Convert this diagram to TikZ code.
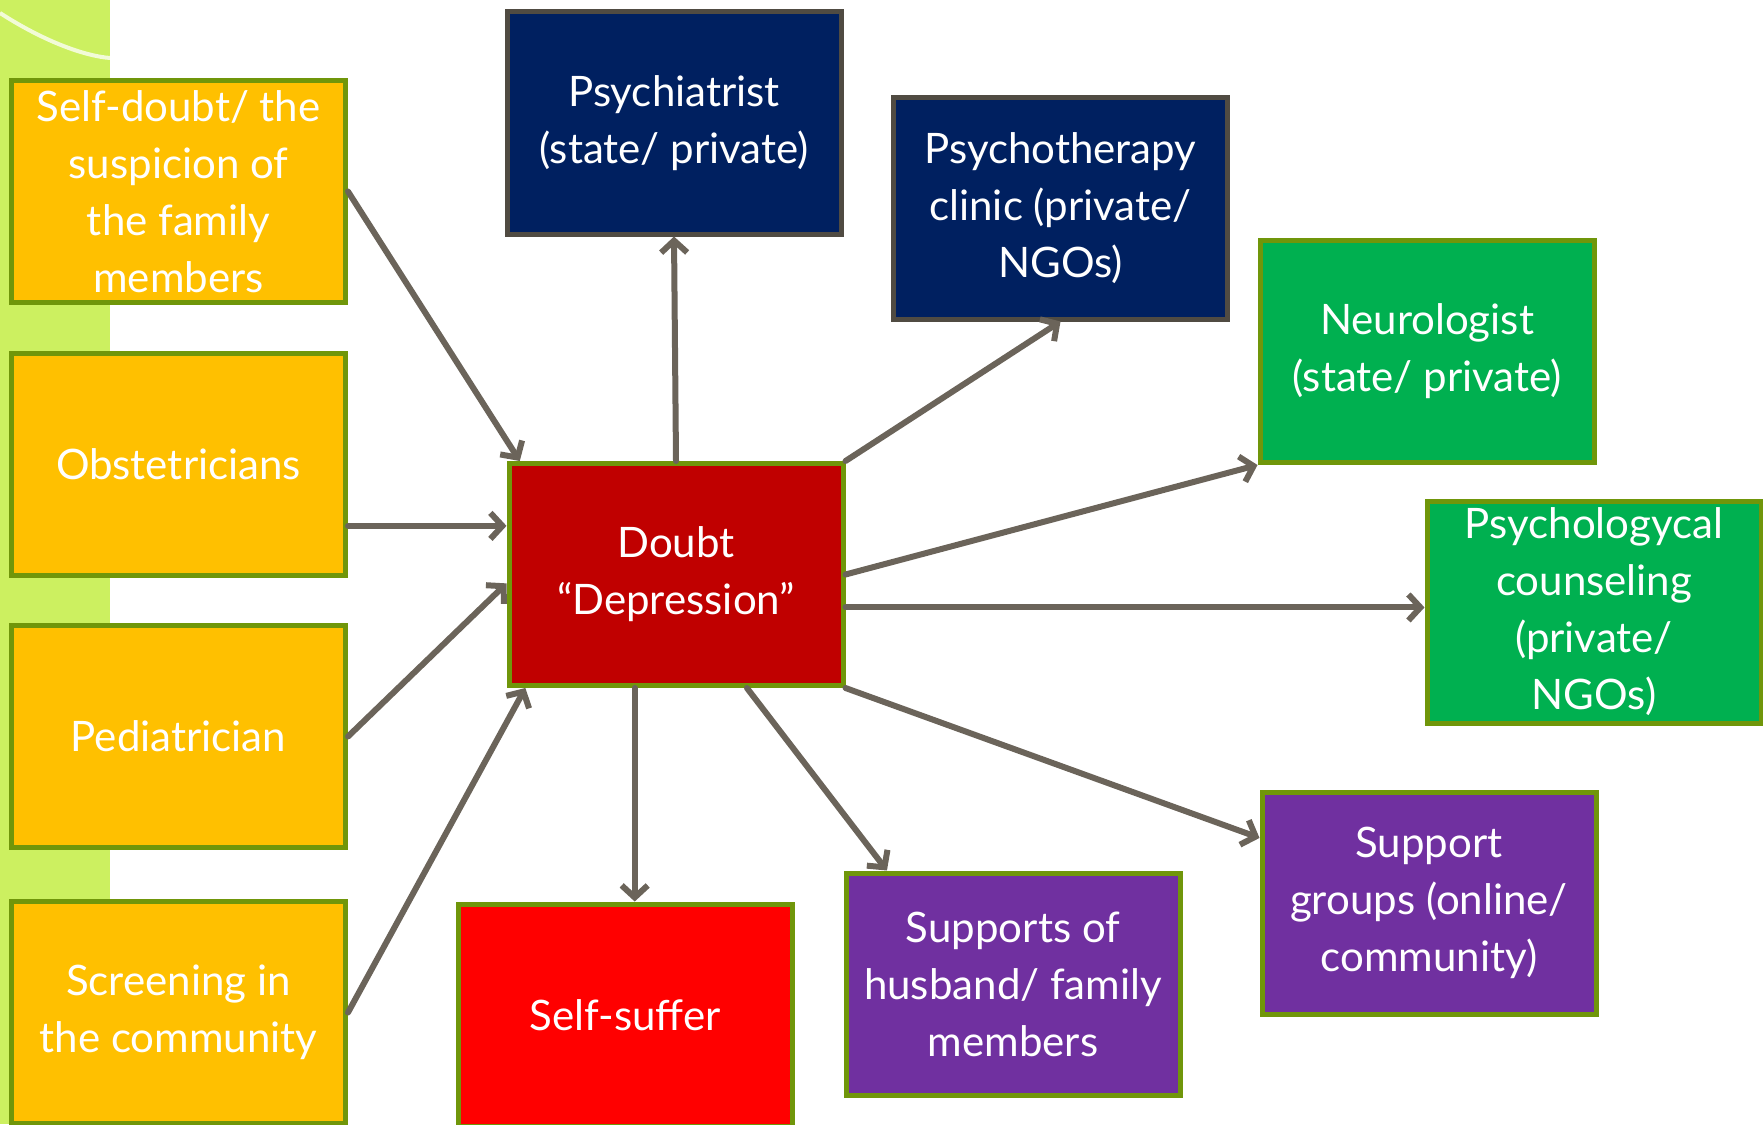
\documentclass[tikz,border=0pt]{standalone}
\usepackage{fontspec}
\setmainfont{Lato}
\usetikzlibrary{arrows.meta}

\definecolor{strip}{RGB}{204,240,96}
\definecolor{amber}{RGB}{255,192,0}
\definecolor{boxedge}{RGB}{112,150,10}
\definecolor{darkred}{RGB}{192,0,0}
\definecolor{navyblue}{RGB}{0,32,96}
\definecolor{navyedge}{RGB}{80,75,66}
\definecolor{grass}{RGB}{0,176,80}
\definecolor{plum}{RGB}{112,48,160}
\definecolor{taupe}{RGB}{107,100,90}

\tikzset{
  box/.style={draw=boxedge,line width=5pt,minimum width=334pt,minimum height=222pt,
    inner sep=0pt,align=center,text=white,font=\fontsize{42}{57}\selectfont},
  flow/.style={color=taupe,line width=6pt,line cap=round,line join=round,
    -{Straight Barb[length=12pt,width=26pt]}}
}

\begin{document}
\begin{tikzpicture}[x=1pt,y=-1pt]
  \useasboundingbox (0,0) rectangle (1763,1124);
  \fill[strip] (0,0) rectangle (110,1124);
  \draw[white,opacity=.75,line width=4pt] (0,13) .. controls (45,42) and (85,56) .. (110,58);

  % where the doubt comes from
  \node[box,fill=amber] (sd) at (178.5,191.5) {Self-doubt/ the\\suspicion of\\the family\\members};
  \node[box,fill=amber] (obs) at (178.5,464.5) {Obstetricians};
  \node[box,fill=amber] (ped) at (178.5,736.5) {Pediatrician};
  \node[box,fill=amber] (scr) at (178.5,1012.5) {Screening in\\the community};

  \node[box,fill=darkred] (dep) at (676,574.5) {Doubt\\``Depression''};

  % where it leads
  \node[box,fill=navyblue,draw=navyedge] (psy) at (674,123) {Psychiatrist\\(state/ private)};
  \node[box,fill=navyblue,draw=navyedge] (ther) at (1060.5,208) {Psychotherapy\\clinic (private/\\NGOs)};
  \node[box,fill=grass] (neu) at (1427,351.5) {Neurologist\\(state/ private)};
  \node[box,fill=grass] (cou) at (1594,612) {Psychologycal\\counseling\\(private/\\NGOs)};
  \node[box,fill=plum] (grp) at (1429,903) {Support\\groups (online/\\community)};
  \node[box,fill=plum] (hus) at (1013,984) {Supports of\\husband/ family\\members};
  \node[box,fill=red] (suf) at (625,1015) {Self-suffer};

  \path[flow]
	(sd.east) edge (dep.144)
	(obs.east |- dep.164) edge (dep.164)
	(ped.east) edge (dep.183)
	(scr.east) edge (dep.217)
	(dep.north) edge (psy.south)
	(dep.north east) edge (ther.south)
	(dep.east) edge (neu.south west)
	(dep.349) edge (dep.349 -| cou.west)
	(dep.south east) edge (grp.159)
	(dep.302) edge (hus.138)
	(dep.250) edge (dep.250 |- suf.north);
\end{tikzpicture}
\end{document}
